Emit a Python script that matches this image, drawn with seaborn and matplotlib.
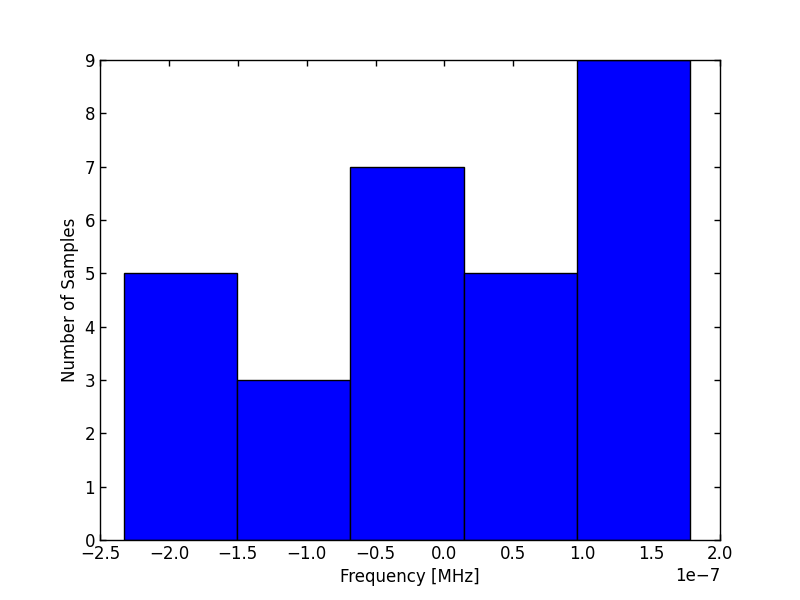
import matplotlib
matplotlib.use('Agg')
import matplotlib.pyplot as plt
import numpy as np
import seaborn as sns

# bin edges (in MHz) and counts
bin_edges = [-2.326e-7, -1.504e-7, -0.683e-7, 0.139e-7, 0.960e-7, 1.782e-7]
counts = [5, 3, 7, 5, 9]
bin_centers = [(a + b) / 2 for a, b in zip(bin_edges[:-1], bin_edges[1:])]

sns.set_style('ticks')
plt.rcParams['font.family'] = ['DejaVu Sans']
plt.rcParams['text.color'] = 'black'
plt.rcParams['axes.labelcolor'] = 'black'
plt.rcParams['xtick.direction'] = 'in'
plt.rcParams['ytick.direction'] = 'in'
plt.rcParams['xtick.top'] = True
plt.rcParams['ytick.right'] = True
plt.rcParams['xtick.major.size'] = 4
plt.rcParams['ytick.major.size'] = 4

fig, ax = plt.subplots(figsize=(8, 6), dpi=100)
fig.subplots_adjust(left=0.125, right=0.9, bottom=0.1, top=0.9)

sns.histplot(x=bin_centers, weights=counts, bins=bin_edges, ax=ax,
             color='#0000ff', alpha=1.0, edgecolor='black', linewidth=1.0)

ax.set_xlim(-2.5e-7, 2.0e-7)
ax.set_ylim(0, 9)
ax.set_xticks(np.arange(-2.5, 2.01, 0.5) * 1e-7)
ax.set_yticks(range(0, 10))
ax.ticklabel_format(axis='x', style='sci', scilimits=(0, 0), useMathText=False)
ax.tick_params(labelsize=12, colors='black', labelcolor='black', width=1)
for s in ax.spines.values():
    s.set_visible(True)
    s.set_color('black')
    s.set_linewidth(1)
ax.xaxis.get_offset_text().set_fontsize(12)
ax.xaxis.get_offset_text().set_color('black')
ax.set_xlabel('Frequency [MHz]', fontsize=12, color='black')
ax.set_ylabel('Number of Samples', fontsize=12, color='black')

fig.savefig('out.png', dpi=100)
